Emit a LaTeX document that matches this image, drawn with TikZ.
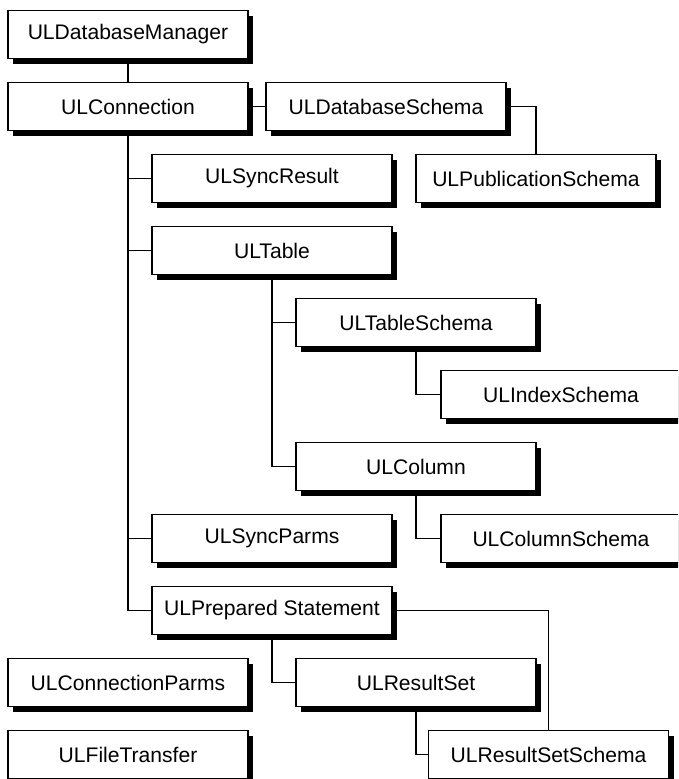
\documentclass[tikz,border=0pt]{standalone}
\usepackage{fontspec}
\setmainfont{Liberation Sans}
\usepackage{tikz}
\usetikzlibrary{shadows, backgrounds}

\begin{document}
\begin{tikzpicture}[
    font=\fontsize{12}{14}\selectfont,
    % Styles
    classbox/.style={
      draw=black,
      fill=white,
      line width=0.6pt,
      align=center,
      minimum width=4.8cm,
      minimum height=0.96cm,
      inner sep=0pt,
      drop shadow={shadow xshift=0.1cm, shadow yshift=-0.1cm, fill=black, opacity=1}
    },
    link/.style={
      draw=black,
      line width=0.6pt
    }
  ]

    % Page frame (the right column runs off the edge)
    \path [use as bounding box, clip] (0,0) rectangle (13.56,-15.58);

    % Left column
    \node (mgr) [classbox] at (2.56, -0.69) {ULDatabaseManager};
    \node (conn) [classbox] at (2.56, -2.13) {ULConnection};
    \node (connparms) [classbox] at (2.56, -13.65) {ULConnectionParms};
    \node (filetrans) [classbox] at (2.56, -15.09) {ULFileTransfer};

    % Schema nodes at the top
    \node (dbschema) [classbox] at (7.72, -2.13) {ULDatabaseSchema};
    \node (pubschema) [classbox] at (10.72, -3.57) {ULPublicationSchema};

    % Children of the connection
    \node (syncres) [classbox] at (5.44, -3.57) {ULSyncResult};
    \node (table) [classbox] at (5.44, -5.01) {ULTable};
    \node (syncparms) [classbox] at (5.44, -10.77) {ULSyncParms};
    \node (prepstmt) [classbox] at (5.44, -12.21) {ULPrepared Statement};

    % Table and column nodes
    \node (tblschema) [classbox] at (8.32, -6.45) {ULTableSchema};
    \node (idxschema) [classbox] at (11.22, -7.89) {ULIndexSchema};
    \node (column) [classbox] at (8.32, -9.33) {ULColumn};
    \node (colschema) [classbox] at (11.22, -10.77) {ULColumnSchema};

    % Result set nodes
    \node (resset) [classbox] at (8.32, -13.65) {ULResultSet};
    \node (ressetschema) [classbox] at (10.97, -15.09) {ULResultSetSchema};

    % Connections, kept behind the boxes and their shadows
    \begin{pgfonlayer}{background}
      \draw [link] (mgr) -- (conn);
      \draw [link] (conn) -- (dbschema);
      \draw [link] (dbschema.east) -| (pubschema.north);

      % Trunk from the connection
      \draw [link] (conn.south) |- (syncres.west);
      \draw [link] (conn.south) |- (table.west);
      \draw [link] (conn.south) |- (syncparms.west);
      \draw [link] (conn.south) |- (prepstmt.west);

      % Table branch
      \draw [link] (table.south) |- (tblschema.west);
      \draw [link] (table.south) |- (column.west);
      \draw [link] (tblschema.south) |- (idxschema.west);
      \draw [link] (column.south) |- (colschema.west);

      % Statement branch
      \draw [link] (prepstmt.south) |- (resset.west);
      \draw [link] (resset.south) |- (ressetschema.west);
      \draw [link] (prepstmt.east) -| (ressetschema.north);
    \end{pgfonlayer}

  \end{tikzpicture}
\end{document}
